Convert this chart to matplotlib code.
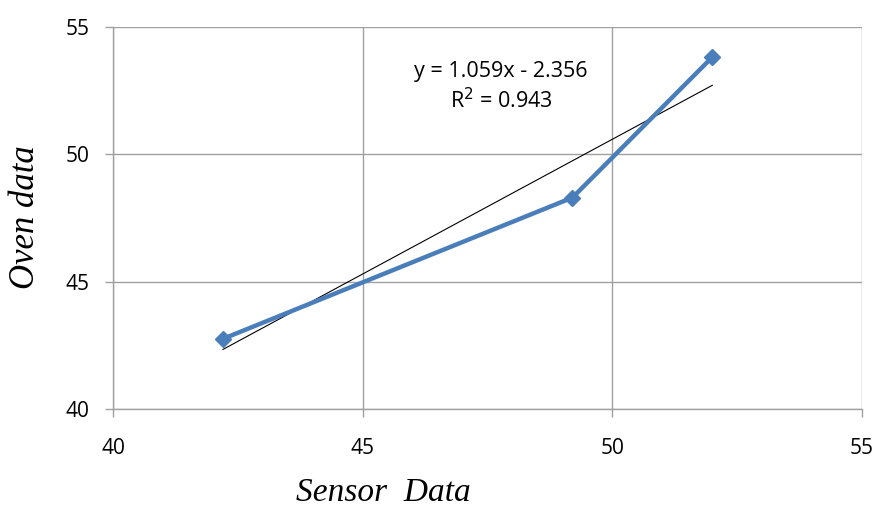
import matplotlib
matplotlib.use('Agg')

import matplotlib.pyplot as plt
import numpy as np

sensor = [42.2, 49.2, 52.0]
oven = [42.75, 48.3, 53.82]
slope = 1.059
intercept = -2.356
r2 = 0.943
xticks = [40, 45, 50, 55]
yticks = [40, 45, 50, 55]

fig = plt.figure(figsize=(8.77, 5.11), dpi=100)
ax = fig.add_axes([0.129, 0.2, 0.854, 0.747])

tx = np.array([min(sensor), max(sensor)])
ax.plot(tx, slope * tx + intercept, color='black', linewidth=0.8, zorder=3)
ax.plot(sensor, oven, color='#4a7ebb', linewidth=3.2, marker='D', markersize=8.5,
        zorder=4)

ax.set_xlim(40, 55)
ax.set_ylim(40, 55)
ax.set_xticks(xticks)
ax.set_yticks(yticks)
ax.grid(True, color='#a0a0a0', linewidth=1)
ax.set_axisbelow(True)
for s in ['top', 'right']:
    ax.spines[s].set_visible(False)
for s in ['left', 'bottom']:
    ax.spines[s].set_color('#a0a0a0')
    ax.spines[s].set_linewidth(1)
ax.tick_params(axis='both', color='#a0a0a0', length=6, width=1, labelsize=15)
ax.tick_params(axis='x', pad=15)
ax.tick_params(axis='y', pad=11)
for lbl in ax.get_xticklabels() + ax.get_yticklabels():
    lbl.set_family('Open Sans')

ax.text(47.77, 52.64, 'y = 1.059x - 2.356\nR$^2$ = 0.943', ha='center', va='center',
        fontsize=15.5, family='Open Sans', linespacing=1.3)

fig.text(0.437, 0.035, 'Sensor  Data', ha='center', va='center',
         fontsize=24, family='Liberation Serif', style='italic')
fig.text(0.029, 0.575, 'Oven data', ha='center', va='center', rotation=90,
         fontsize=25, family='Liberation Serif', style='italic')

fig.savefig('out.png', dpi=100)
plt.close('all')
